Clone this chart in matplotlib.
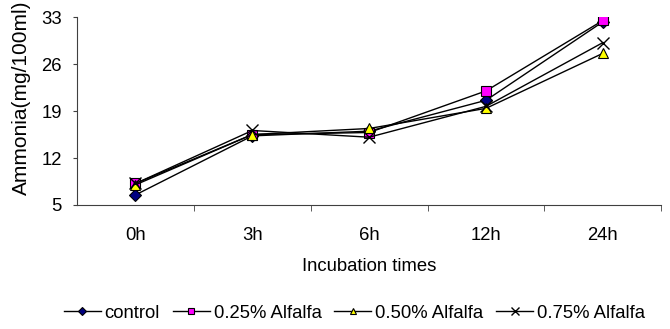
import numpy as np
import matplotlib
matplotlib.use("Agg")
import matplotlib.pyplot as plt

plt.rcParams['font.family'] = ['Liberation Sans', 'DejaVu Sans']

times = ['0h', '3h', '6h', '12h', '24h']
control = [6.5, 15.3, 16.0, 20.6, 32.3]
alfalfa_025 = [8.2, 15.5, 15.8, 22.0, 32.5]
alfalfa_050 = [8.0, 15.5, 16.4, 19.4, 27.6]
alfalfa_075 = [8.2, 16.1, 15.1, 19.7, 29.2]
y_ticks = [5, 12, 19, 26, 33]

fs = 13.3

fig = plt.figure(figsize=(6.7, 3.29), dpi=100)
ax = fig.add_axes([0.115, 0.377, 0.872, 0.571])

x = np.arange(len(times))
ax.plot(x, control, color='black', lw=1, marker='D', ms=6,
        mfc='#000080', mec='black', mew=0.8, label='control')
ax.plot(x, alfalfa_025, color='black', lw=1, marker='s', ms=7,
        mfc='#FF00FF', mec='black', mew=0.8, label='0.25% Alfalfa')
ax.plot(x, alfalfa_050, color='black', lw=1, marker='^', ms=7,
        mfc='#FFFF00', mec='black', mew=0.8, label='0.50% Alfalfa')
ax.plot(x, alfalfa_075, color='black', lw=1, marker='x', ms=8,
        mec='black', mew=1, label='0.75% Alfalfa')

ax.set_xlim(-0.5, len(times) - 0.5)
ax.set_ylim(5, 33)
ax.set_yticks(y_ticks)
ax.set_xticks(x)
ax.set_xticklabels(times)
ax.set_xticks(np.arange(len(times)) + 0.5, minor=True)
ax.tick_params(axis='x', which='major', length=0, pad=16, labelsize=fs)
ax.tick_params(axis='x', which='minor', length=4.5, direction='out', color='#404040')
ax.tick_params(axis='y', length=3, direction='out', color='#404040', labelsize=fs, pad=8)

for side in ['top', 'right']:
    ax.spines[side].set_visible(False)
for side in ['left', 'bottom']:
    ax.spines[side].set_color('#404040')

ax.set_xlabel('Incubation times', fontsize=fs, va='top')
ax.xaxis.set_label_coords(0.5, -0.28)
fig.text(21 / 670, 1 - 195 / 329, 'Ammonia(mg/100ml)', rotation=90,
         ha='center', va='bottom', fontsize=15)

fig.legend(loc='center left', bbox_to_anchor=(64 / 670, 1 - 313 / 329), ncol=4,
           frameon=False, fontsize=fs, handlelength=2.0, handletextpad=0.2,
           columnspacing=0.7, borderaxespad=0, borderpad=0, markerscale=0.7)

fig.savefig('out.png', dpi=100)
